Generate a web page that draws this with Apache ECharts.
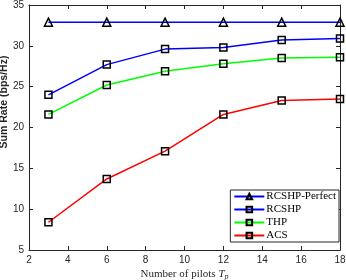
<!DOCTYPE html>
<html><head><meta charset="utf-8">
<script src="https://cdn.jsdelivr.net/npm/echarts@6/dist/echarts.min.js"></script>
<style>html,body{margin:0;padding:0;background:#fff}#c{width:346px;height:280px}</style>
</head><body><div id="c"></div>
<script>
var pilots = [3, 6, 9, 12, 15, 18];
var seriesNames = ['RCSHP-Perfect', 'RCSHP', 'THP', 'ACS'];
var rcshpPerfect = [32.9, 32.9, 32.9, 32.9, 32.9, 32.9];
var rcshp = [24.0, 27.7, 29.6, 29.8, 30.7, 30.9];
var thp = [21.6, 25.2, 26.9, 27.8, 28.5, 28.6];
var acs = [8.4, 13.7, 17.1, 21.6, 23.3, 23.5];
var xTicks = [2, 4, 6, 8, 10, 12, 14, 16, 18];
var yTicks = [5, 10, 15, 20, 25, 30, 35];

var axisColor = '#262626';
function pairs(vals){ return pilots.map(function(p,i){ return [p, vals[i]]; }); }
function mk(name, vals, color, symbol, size){
  return {
    name: name, type: 'line', data: pairs(vals), xAxisIndex: 0, yAxisIndex: 0,
    symbol: symbol, symbolSize: size, showAllSymbol: true,
    lineStyle: {color: color, width: 1.5},
    itemStyle: {color: 'rgba(0,0,0,0)', borderColor: '#000', borderWidth: 1.5},
    emphasis: {disabled: true}, animation: false
  };
}
var chart = echarts.init(document.getElementById('c'), null, {renderer: 'canvas'});
var baseAxis = {
  axisLine: {show: true, onZero: false, lineStyle: {color: axisColor, width: 1}},
  axisTick: {show: true, inside: true, length: 4, lineStyle: {color: axisColor}},
  splitLine: {show: false}
};
chart.setOption({
  animation: false,
  grid: {left: 29, right: 6, top: 5, bottom: 30, containLabel: false, outerBoundsMode: 'none'},
  xAxis: [
    Object.assign({type: 'value', min: xTicks[0], max: xTicks[xTicks.length-1], interval: 2, position: 'bottom',
      axisLabel: {color: axisColor, fontSize: 10, fontFamily: 'Liberation Sans', margin: 5},
      name: '{a|Number of pilots }{t|T}{p|p}', nameLocation: 'middle', nameGap: 17, nameMoveOverlap: false,
      nameTextStyle: {rich: {
        a: {fontFamily: 'Liberation Serif', fontSize: 11, color: axisColor},
        t: {fontFamily: 'Liberation Serif', fontStyle: 'italic', fontSize: 11, color: axisColor},
        p: {fontFamily: 'Liberation Serif', fontStyle: 'italic', fontSize: 8, color: axisColor, verticalAlign: 'bottom', padding: [6,0,0,0]}
      }}
    }, baseAxis),
    Object.assign({type: 'value', min: xTicks[0], max: xTicks[xTicks.length-1], interval: 2, position: 'top',
      axisLabel: {show: false}}, baseAxis)
  ],
  yAxis: [
    Object.assign({type: 'value', min: yTicks[0], max: yTicks[yTicks.length-1], interval: 5, position: 'left',
      axisLabel: {color: axisColor, fontSize: 10, fontFamily: 'Liberation Sans', margin: 5},
      name: 'Sum Rate (bps/Hz)', nameLocation: 'middle', nameGap: 19, nameMoveOverlap: false,
      nameTextStyle: {fontFamily: 'Liberation Sans', fontWeight: 'bold', fontSize: 10.5, color: axisColor,
        padding: [0, 0, 0, 51]}
    }, baseAxis),
    Object.assign({type: 'value', min: yTicks[0], max: yTicks[yTicks.length-1], interval: 5, position: 'right',
      axisLabel: {show: false}}, baseAxis)
  ],
  legend: {
    data: seriesNames, orient: 'vertical', right: 7, bottom: 38,
    itemWidth: 30, itemHeight: 7, itemGap: 2,
    backgroundColor: '#fff', borderColor: axisColor, borderWidth: 1, borderRadius: 0,
    padding: [1, 3, 1, 3],
    textStyle: {fontFamily: 'Liberation Serif', fontSize: 11, lineHeight: 11, color: '#000', padding: [0,0,0,-3]},
    selectedMode: false
  },
  series: [
    mk(seriesNames[0], rcshpPerfect, '#0000ff', 'triangle', 8),
    mk(seriesNames[1], rcshp, '#0000ff', 'rect', 7),
    mk(seriesNames[2], thp, '#00ff00', 'rect', 7),
    mk(seriesNames[3], acs, '#ff0000', 'rect', 7)
  ]
});
</script></body></html>
